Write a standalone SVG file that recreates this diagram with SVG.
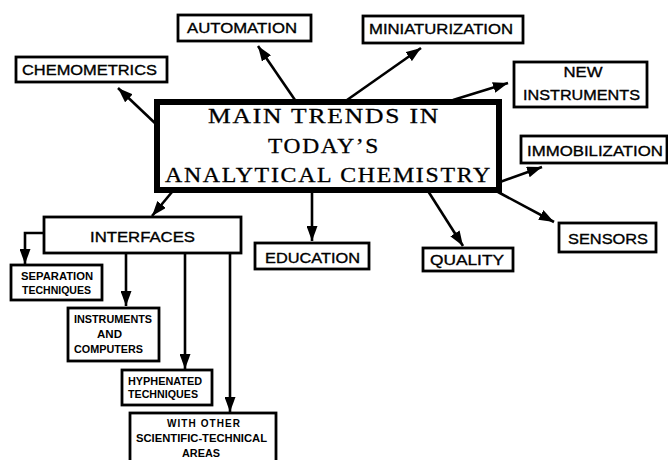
<svg xmlns="http://www.w3.org/2000/svg" width="668" height="460" viewBox="0 0 668 460">
  <style>
    .box { fill: #fff; stroke: #000; stroke-width: 2.8; }
    .main { fill: #fff; stroke: #000; stroke-width: 6; }
    .lbl { font-family: "Liberation Sans", Arial, sans-serif; font-size: 15px; fill: #000; stroke: #000; stroke-width: 0.35; text-anchor: middle; }
    .sm { font-family: "Liberation Sans", Arial, sans-serif; font-size: 10px; font-weight: bold; fill: #000; }
    .title { font-family: "Liberation Serif", "Times New Roman", serif; font-size: 21px; letter-spacing: 1.5px; fill: #000; stroke: #000; stroke-width: 0.3; text-anchor: middle; }
    .conn line, .conn polyline { stroke: #000; stroke-width: 2.6; fill: none; marker-end: url(#arrow); }
  </style>
  <defs>
    <marker id="arrow" markerUnits="userSpaceOnUse" markerWidth="15" markerHeight="11" refX="15" refY="5.5" orient="auto">
      <path d="M0,0 L15,5.5 L0,11 Z" fill="#000"/>
    </marker>
  </defs>
  <rect width="668" height="460" fill="#fff"/>

  <!-- connectors -->
  <g id="connectors" class="conn">
    <line x1="157" y1="125" x2="118" y2="88"/>
    <line x1="295" y1="100" x2="258" y2="46"/>
    <line x1="347" y1="100" x2="421" y2="48"/>
    <line x1="453" y1="100" x2="508" y2="83"/>
    <line x1="500" y1="182" x2="542" y2="167"/>
    <line x1="498" y1="192" x2="554" y2="222"/>
    <line x1="428" y1="191" x2="463" y2="246"/>
    <line x1="312" y1="192" x2="312" y2="241"/>
    <line x1="172" y1="192" x2="152" y2="216"/>
    <polyline points="44,233 25,233 25,264"/>
    <line x1="126" y1="253" x2="126" y2="306"/>
    <line x1="185" y1="253" x2="185" y2="369"/>
    <line x1="230" y1="253" x2="230" y2="412"/>
  </g>

  <!-- central topic -->
  <g id="main">
    <rect class="main" x="157" y="102" width="342" height="88"/>
    <text class="title" x="324" y="123" textLength="232" lengthAdjust="spacingAndGlyphs">MAIN  TRENDS  IN</text>
    <text class="title" x="324" y="153" textLength="112" lengthAdjust="spacingAndGlyphs">TODAY’S</text>
    <text class="title" x="328.5" y="182" textLength="327" lengthAdjust="spacingAndGlyphs">ANALYTICAL  CHEMISTRY</text>
  </g>

  <g id="chemometrics">
    <rect class="box" x="16" y="57" width="151" height="25"/>
    <text class="lbl" x="89.5" y="75" textLength="135" lengthAdjust="spacingAndGlyphs">CHEMOMETRICS</text>
  </g>
  <g id="automation">
    <rect class="box" x="178" y="15" width="133" height="26"/>
    <text class="lbl" x="242" y="33" textLength="110" lengthAdjust="spacingAndGlyphs">AUTOMATION</text>
  </g>
  <g id="miniaturization">
    <rect class="box" x="363" y="16" width="160" height="27"/>
    <text class="lbl" x="441" y="34" textLength="144" lengthAdjust="spacingAndGlyphs">MINIATURIZATION</text>
  </g>
  <g id="new-instruments">
    <rect class="box" x="514" y="62" width="133" height="45"/>
    <text class="lbl" x="583" y="77" textLength="39" lengthAdjust="spacingAndGlyphs">NEW</text>
    <text class="lbl" x="581.5" y="100" textLength="117" lengthAdjust="spacingAndGlyphs">INSTRUMENTS</text>
  </g>
  <g id="immobilization">
    <rect class="box" x="521" y="136" width="146" height="27"/>
    <text class="lbl" x="595" y="156" textLength="136" lengthAdjust="spacingAndGlyphs">IMMOBILIZATION</text>
  </g>
  <g id="sensors">
    <rect class="box" x="559" y="223" width="97" height="29"/>
    <text class="lbl" x="608" y="244" textLength="80" lengthAdjust="spacingAndGlyphs">SENSORS</text>
  </g>
  <g id="quality">
    <rect class="box" x="423" y="248" width="90" height="23"/>
    <text class="lbl" x="467" y="265" textLength="74" lengthAdjust="spacingAndGlyphs">QUALITY</text>
  </g>
  <g id="education">
    <rect class="box" x="255" y="243" width="114" height="26"/>
    <text class="lbl" x="312.5" y="263" textLength="95" lengthAdjust="spacingAndGlyphs">EDUCATION</text>
  </g>
  <g id="interfaces">
    <rect class="box" x="44" y="217" width="197" height="36"/>
    <text class="lbl" x="142.5" y="242" textLength="105" lengthAdjust="spacingAndGlyphs">INTERFACES</text>
  </g>
  <g id="separation-techniques">
    <rect class="box" x="11" y="265" width="91" height="35"/>
    <text class="sm" x="21" y="280" textLength="72" lengthAdjust="spacingAndGlyphs">SEPARATION</text>
    <text class="sm" x="22" y="294" textLength="69" lengthAdjust="spacingAndGlyphs">TECHNIQUES</text>
  </g>
  <g id="instruments-and-computers">
    <rect class="box" x="68" y="308" width="91" height="53"/>
    <text class="sm" x="74" y="323" textLength="78" lengthAdjust="spacingAndGlyphs">INSTRUMENTS</text>
    <text class="sm" x="97" y="338" textLength="25" lengthAdjust="spacingAndGlyphs">AND</text>
    <text class="sm" x="74" y="353" textLength="69" lengthAdjust="spacingAndGlyphs">COMPUTERS</text>
  </g>
  <g id="hyphenated-techniques">
    <rect class="box" x="122" y="370" width="90" height="35"/>
    <text class="sm" x="128" y="385" textLength="74" lengthAdjust="spacingAndGlyphs">HYPHENATED</text>
    <text class="sm" x="128" y="398" textLength="70" lengthAdjust="spacingAndGlyphs">TECHNIQUES</text>
  </g>
  <g id="other-areas">
    <rect class="box" x="130" y="413" width="146" height="60"/>
    <text class="sm" x="167" y="427" textLength="73" lengthAdjust="spacing">WITH  OTHER</text>
    <text class="sm" x="136" y="442" textLength="131" lengthAdjust="spacingAndGlyphs">SCIENTIFIC-TECHNICAL</text>
    <text class="sm" x="182" y="457" textLength="38" lengthAdjust="spacingAndGlyphs">AREAS</text>
  </g>
</svg>
